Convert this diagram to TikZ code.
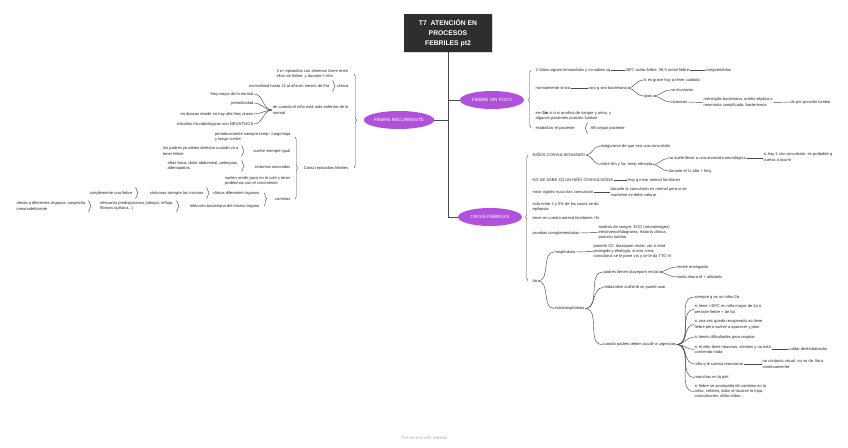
\documentclass[tikz,border=0pt]{standalone}
\usepackage{fontspec}
\setmainfont{Liberation Sans}
\usetikzlibrary{positioning}
\usetikzlibrary{shapes.geometric}
\usetikzlibrary{decorations.pathreplacing}
\usetikzlibrary{shadows}
\definecolor{topicpurple}{HTML}{B051DC}
\definecolor{linegray}{HTML}{4A4A4A}
\definecolor{rootgray}{HTML}{2E2E2E}

% brace in front of one single child
\newcommand{\singlebraceL}[1]{\draw[bracer] ([shift={(2.5,-5.5)}]#1.east) -- ([shift={(2.5,5.5)}]#1.east);}
\newcommand{\singlebraceR}[1]{\draw[bracer] ([shift={(-2.5,5.5)}]#1.west) -- ([shift={(-2.5,-5.5)}]#1.west);}

\begin{document}
\begin{tikzpicture}[x=1pt,y=-1pt,
    leaf/.style={font=\fontsize{4.05}{5.2}\selectfont, inner sep=0.5pt, align=left, text=black!85},
    rleaf/.style={leaf, anchor=west},
    lleaf/.style={leaf, anchor=east},
    topic/.style={ellipse, fill=topicpurple, text=white, font=\fontsize{4.6}{5.5}\selectfont, minimum width=64pt, minimum height=18pt, inner sep=0pt},
    root/.style={fill=rootgray, text=white, font=\fontsize{6.8}{10.3}\selectfont\bfseries, align=center, minimum width=88pt, minimum height=38pt, inner sep=1pt, drop shadow={fill=black!30, shadow xshift=1pt, shadow yshift=-1pt}},
    link/.style={draw=linegray, line width=0.45pt},
    bracer/.style={link, decorate, decoration={brace, amplitude=2.5pt, aspect=#1}},
    bracer/.default=0.5]
  \useasboundingbox (0,0) rectangle (848,447);

  % central topic and main branches
  \node[root] (root) at (448,33) {T7\ \ ATENCIÓN EN\\PROCESOS\\FEBRILES pt2};
  \node[topic] (rec) at (399,120) {FIEBRE RECURRENTE};
  \node[topic] (sinfoco) at (492,100) {FIEBRE SIN FOCO};
  \node[topic] (crisis) at (490,217) {CRISIS FEBRILES};
  \draw[link] (root.south) -- (root.south |- crisis.west) -- (crisis.west);
  \draw[link] (root.south |- rec.east) -- (rec.east);
  \draw[link] (root.south |- sinfoco.west) -- (sinfoco.west);

  % ---------------- fiebre recurrente
  \node[lleaf] (r1) at (349,74) {3 o+ episodios con almenos 2sem entre\\ellos sin fiebre, y durante <=6m};
  \node[lleaf] (r2) at (349,86) {clínica};
  \node[lleaf] (r2a) at (330,86) {normalidad hasta 12 al año en meses de frío};
  \node[lleaf] (r3) at (349,110) {de cuando el niño está más enfermo de lo\\normal};
  \node[lleaf] (r4) at (349,168) {Caract episodios febriles};
  \draw[bracer=0.49] ([xshift=5pt]r1.east) -- ([xshift=5pt]r4.east);
  \singlebraceL{r2a}

  \node[lleaf] (f1) at (254,94) {freq mayor de lo normal};
  \node[lleaf] (f2) at (254,103) {periodicidad};
  \node[lleaf] (f3) at (254,114) {en épocas donde no hay alta freq virasis};
  \node[lleaf] (f4) at (254,124) {estudios microbiológicos son NEGATIVOS};
  \foreach \f in {f1,f2,f3,f4}
    {\draw[link] (r3.west) to[out=180,in=0] (\f.east);}

  \node[lleaf] (k1) at (291,137) {periodicamente siempre temp↑ luego baja\\y luego vuelve};
  \node[lleaf] (k2) at (291,151) {vuelve siempre igual};
  \node[lleaf] (k2a) at (239,151) {los padres ya saben detectar cuando va a\\tener fiebre};
  \node[lleaf] (k3) at (291,167) {síntomas asociados};
  \node[lleaf] (k3a) at (239,166) {aftas boca, dolor abdominal, petequias,\\adenopatías.};
  \node[lleaf] (k4) at (291,181) {suelen rendir poco en el cole y tener\\problemas con el crecimiento};
  \node[lleaf] (k5) at (291,199) {caminos};
  \draw[bracer=0.5] ([xshift=4pt]k1.east) -- ([xshift=4pt]k5.east);
  \singlebraceL{k2a}
  \singlebraceL{k3a}

  \node[lleaf] (m1) at (260,193) {clínica diferentes órganos};
  \node[lleaf] (m1a) at (204,193) {síntomas siempre los mismos};
  \node[lleaf] (m1b) at (133,193) {simplemente una fiebre};
  \node[lleaf] (m2) at (260,206) {infección bacteriana del mismo órgano};
  \node[lleaf] (m2a) at (174,206) {descartar predisposicion (alergia, reflujo,\\fibrosis quística...)};
  \node[lleaf] (m2b) at (86,206) {afecta a diferentes órganos, sospecha\\inmunodeficiente};
  \draw[bracer=0.46] ([xshift=4pt]m1.east) -- ([xshift=4pt]m2.east);
  \singlebraceL{m1a}
  \singlebraceL{m1b}
  \singlebraceL{m2a}
  \singlebraceL{m2b}

  % ---------------- fiebre sin foco
  \node[rleaf] (s1) at (535,70) {2-3dias siguen temandolos y no saben xq};
  \node[rleaf] (s1a) at (625,70) {38ºC axilar fiebre, 38,5 rectal fiebre};
  \node[rleaf] (s1b) at (705,70) {comprendidos};
  \node[rleaf] (s2) at (535,88) {normalmente vírica};
  \node[rleaf] (s2a) at (588,88) {raro q sea bacteriana};
  \node[rleaf] (s2b) at (643,80) {si es grave hay q tener cuidado};
  \node[rleaf] (s2c) at (643,96) {tipos};
  \node[rleaf] (s2d) at (670,90) {no invasivas};
  \node[rleaf] (s2e) at (670,102) {invasivas};
  \node[rleaf] (s2f) at (703,102.5) {meningitis bacteriana, artritis séptica o\\neumonía complicada, bacteriemia};
  \node[rleaf] (s2g) at (790,102) {dx por punción lumbar};
  \node[rleaf] (s3) at (535,116) {en<\textbf{3m} si o si analisis de sangre y orina, y\\algunos pacientes punción lumbar};
  \node[rleaf] (s4) at (535,128) {estabilizar el paciente};
  \node[rleaf] (s4a) at (590,128) {AB según paciente};
  \draw[bracer=0.48] ([xshift=-4pt]s4.west) -- ([xshift=-4pt]s1.west);
  \singlebraceR{s4a}
  \draw[link] (s1.east) -- (s1a.west);
  \draw[link] (s1a.east) -- (s1b.west);
  \draw[link] (s2.east) -- (s2a.west);
  \draw[link] (s2a.east) to[out=0,in=180] (s2b.west);
  \draw[link] (s2a.east) to[out=0,in=180] (s2c.west);
  \draw[link] (s2c.east) to[out=0,in=180] (s2d.west);
  \draw[link] (s2c.east) to[out=0,in=180] (s2e.west);
  \draw[link] (s2e.east) -- (s2f.west);
  \draw[link] (s2f.east) -- (s2g.west);

  % ---------------- crisis febriles
  \node[rleaf] (c1) at (532,155) {NIÑOS CONVULSIONANDO};
  \node[rleaf] (c1a) at (600,146) {asegurarse de que sea una convulsión};
  \node[rleaf] (c1b) at (600,164.5) {entre 6m y 5a, temp elevada};
  \node[rleaf] (c1c) at (668,158.5) {no suele llevar a una anomalía neurológica};
  \node[rleaf] (c1d) at (668,171) {durante el 1r año + freq};
  \node[rleaf] (c1e) at (763,157) {si hay 1 vez convulsión, es probable q\\vuelva a ocurrir};
  \node[rleaf] (c2) at (532,180.5) {NO SE SABE XQ UN NIÑO CONVULSIONA};
  \node[rleaf] (c2a) at (627,180.5) {Hay q mirar antecd familiares};
  \node[rleaf] (c3) at (532,192) {mirar rigidez nuca tras convulsión};
  \node[rleaf] (c3a) at (610,192) {durante la convulsión es normal pero si se\\mantiene se debe valorar};
  \node[rleaf] (c4) at (532,207) {solo entre 2 y 5\% de los casos se da\\epilepsia};
  \node[rleaf] (c5) at (532,218) {tener en cuenta antecd familiares +fx};
  \node[rleaf] (c6) at (532,233) {pruebas complementarias};
  \node[rleaf] (c6a) at (598,232.5) {analisis de sangre, ECO (neuroimagen)\\electroencefalograma, historia clínica,\\punción lumbar};
  \node[rleaf] (c7) at (532,281) {tto};
  \draw[bracer=0.51] ([xshift=-4pt]c7.west) -- ([xshift=-4pt]c1.west);
  \draw[link] (c1.east) to[out=0,in=180] (c1a.west);
  \draw[link] (c1.east) to[out=0,in=180] (c1b.west);
  \draw[link] (c1b.east) to[out=0,in=180] (c1c.west);
  \draw[link] (c1b.east) to[out=0,in=180] (c1d.west);
  \draw[link] (c1c.east) -- (c1e.west |- c1c);
  \draw[link] (c2.east) -- (c2a.west);
  \draw[link] (c3.east) -- (c3a.west);
  \draw[link] (c6.east) -- (c6a.west);

  \node[rleaf] (h1) at (554,252) {hospitalario};
  \node[rleaf] (h1a) at (593,251.5) {ponerle O2, diazepam rectal, ver si está\\protegido y etiología, si otra crisis\\convulsiva se le pone vía y se le da TTO IV};
  \node[rleaf] (h2) at (554,308.5) {extrahospitalario};
  \draw[link] (c7.east) to[out=0,in=180] (h1.west);
  \draw[link] (c7.east) to[out=0,in=180] (h2.west);
  \draw[link] (h1.east) -- (h1a.west);

  \node[rleaf] (e1) at (603,272) {padres tienen diazepam rectal};
  \node[rleaf] (e1a) at (676,267) {remite enseguida};
  \node[rleaf] (e1b) at (676,277) {hasta ahora el + utilizado};
  \node[rleaf] (e2) at (603,287.5) {midazolam oral1mb se puede usar};
  \node[rleaf] (e3) at (602,344.5) {cuando padres deben acudir a urgencias};
  \foreach \e in {e1,e2,e3}
    {\draw[link] (h2.east) to[out=0,in=180] (\e.west);}
  \draw[link] (e1.east) to[out=0,in=180] (e1a.west);
  \draw[link] (e1.east) to[out=0,in=180] (e1b.west);

  \foreach \n/\y/\t in {u1/297/{siempre q es un niño<2a},
      u2/309.5/{si tiene >39ºC en niño mayor de 2a o\\persiste fiebre + de 5d},
      u3/324.5/{si una vez queda recuperado no tiene\\fiebre pero vuelve a aparecer y peor},
      u4/337/{si tienes dificultades para respirar},
      u5/349.5/{si el niño tiene náuseas, vómitos y no está\\comiendo nada},
      u6/364/{niño q le cuesta reaccionar},
      u7/377.5/{manchas en la piel},
      u8/391.5/{si fiebre se acompaña de cambios en la\\orina, cefalea, dolor al tocarse la tripa,\\convulsiones, dolor oídos...}}
    {\node[rleaf] (\n) at (694,\y) {\t};
     \draw[link] (e3.east) to[out=0,in=180] (\n.west);}
  \node[rleaf] (u5a) at (788,349.5) {cuidar deshidratación};
  \node[rleaf] (u6a) at (762,364) {no contacto visual, no se ríe, llora\\continuamente.};
  \draw[link] (u5.east) -- (u5a.west);
  \draw[link] (u6.east) -- (u6a.west);

  \node[font=\fontsize{4.6}{5}\selectfont, text=black!28] (credit) at (424,438) {Presented with \textbf{xmind}};
\end{tikzpicture}
\end{document}
